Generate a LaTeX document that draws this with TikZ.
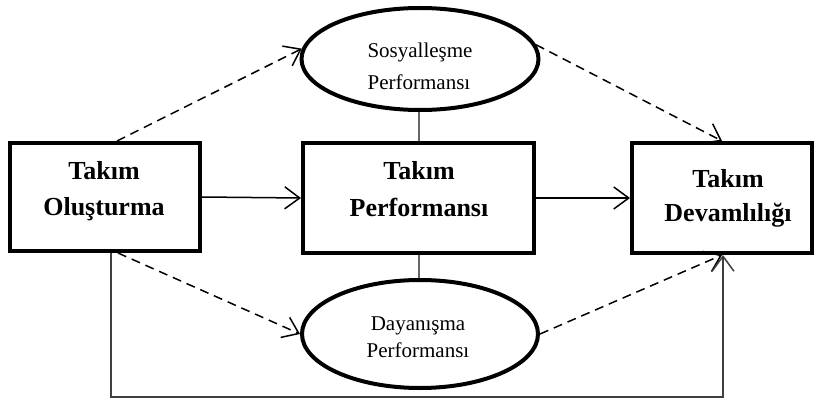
\documentclass[tikz,border=0pt]{standalone}
\usepackage{fontspec}
\setmainfont{Liberation Serif}
\usetikzlibrary{arrows.meta,shapes.geometric}
\begin{document}
\begin{tikzpicture}[x=1pt,y=-1pt,
  boxnode/.style={draw,line width=4pt,rectangle,inner sep=0pt},
  ovalnode/.style={draw,line width=4pt,ellipse,inner sep=0pt},
  boldtxt/.style={anchor=base,inner sep=0pt,font=\fontsize{26}{30}\selectfont\bfseries},
  regtxt/.style={anchor=base,inner sep=0pt,font=\fontsize{21}{25}\selectfont},
  arr/.style={line width=1.5pt,-{Straight Barb[length=15pt,width=22pt,line width=1.5pt]}},
  darr/.style={arr,dash pattern=on 9pt off 6pt},
  thinline/.style={line width=1.2pt,black!60},
  fbline/.style={line width=1.5pt,black!75,-{Straight Barb[length=15pt,width=22pt,line width=1.5pt]}}]
\useasboundingbox (0,0) rectangle (817,401);
\fill[white] (0,0) rectangle (817,401);

% boxes
\node[boxnode,minimum width=190pt,minimum height=108pt] (A) at (105,197) {};
\node[boxnode,minimum width=231pt,minimum height=110pt] (B) at (418.5,198) {};
\node[boxnode,minimum width=180pt,minimum height=110pt] (C) at (722,198) {};
% ellipses
\node[ovalnode,minimum width=237pt,minimum height=102pt] (S) at (420,59) {};
\node[ovalnode,minimum width=236pt,minimum height=108pt] (D) at (420,334) {};

% texts
\node[boldtxt] (A1) at (104,180) {Takım};
\node[boldtxt] (A2) at (104,215) {Oluşturma};
\node[boldtxt] (B1) at (419,180) {Takım};
\node[boldtxt] (B2) at (419,216) {Performansı};
\node[boldtxt] (C1) at (728,188) {Takım};
\node[boldtxt] (C2) at (728,222) {Devamlılığı};
\node[regtxt] (S1) at (420,58) {Sosyalleşme};
\node[regtxt] (S2) at (419,90) {Performansı};
\node[regtxt] (D1) at (418,330) {Dayanışma};
\node[regtxt] (D2) at (418,357) {Performansı};

% plain links between ellipses and middle box
\draw[thinline] (S.south -| B1) -- (B.north -| B1);
\draw[thinline] (B.south -| B1) -- (D.north -| B1);

% solid arrows
\draw[arr] (A.east) -- (B.west);
\draw[arr] (B.east) -- (C.west);

% dashed arrows
\draw[darr] ([xshift=12pt]A.north) -- (S.175);
\draw[darr] (S.7) -- (C.north);
\draw[darr] ([xshift=13pt]A.south) -- (D.west);
\draw[darr] (D.east) -- (C.south);

% feedback line
\coordinate (f1) at (111,397);
\coordinate (f2) at (723,397);
\draw[fbline] (A.south -| f1) -- (f1) -- (f2) -- (C.south -| f2);
\end{tikzpicture}
\end{document}
